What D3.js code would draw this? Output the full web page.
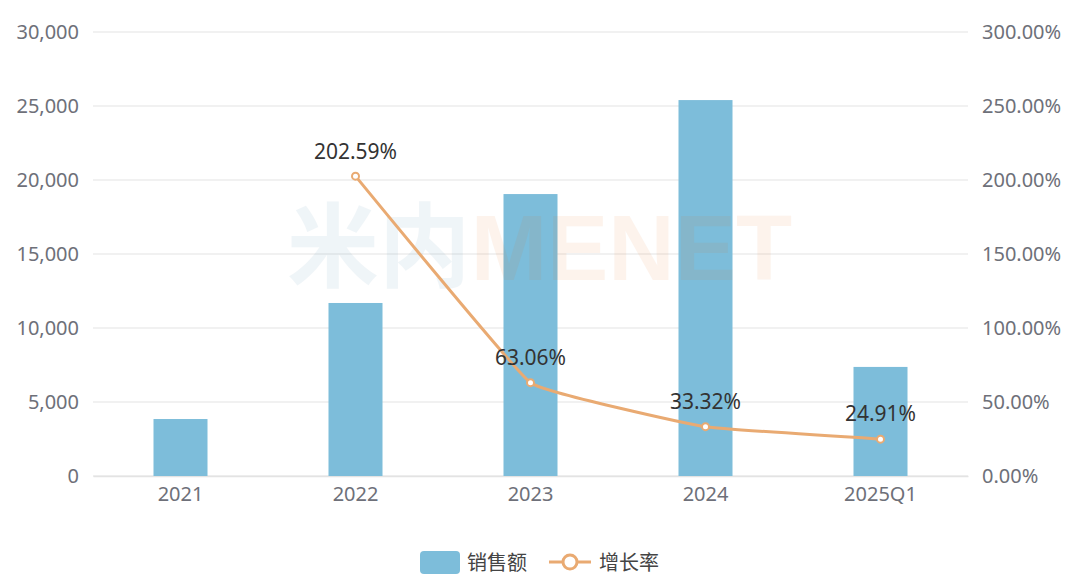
<!DOCTYPE html>
<html><head><meta charset="utf-8">
<script src="https://cdn.jsdelivr.net/npm/d3@7"></script>
<style>body{margin:0;background:#fff}svg{display:block}text{font-family:"Noto Sans","Noto Sans CJK SC",sans-serif}</style>
</head><body>
<svg id="c" width="1080" height="582"></svg>
<script>
const categories = ["2021","2022","2023","2024","2025Q1"];
const sales = [3850, 11690, 19050, 25400, 7370];
const growth = [null, 202.59, 63.06, 33.32, 24.91];
const leftTicks = [0, 5000, 10000, 15000, 20000, 25000, 30000];
const rightTicks = [0, 50, 100, 150, 200, 250, 300];
const legendNames = ["销售额", "增长率"];

const svg = d3.select("#c");
const L = 93, R = 968, T = 32, B = 476;
const barColor = "#7dbdda", lineColor = "#e9aa72", axisText = "#6e7079";
const fs = 20;

const x = d3.scaleBand().domain(categories).range([L, R]);
const yL = d3.scaleLinear().domain([0, 30000]).range([B, T]);
const yR = d3.scaleLinear().domain([0, 300]).range([B, T]);

// grid
svg.append("g").selectAll("line").data(leftTicks).join("line")
  .attr("x1", L).attr("x2", R).attr("y1", d => yL(d)).attr("y2", d => yL(d))
  .attr("stroke", "#ececec").attr("stroke-width", 1.3);

// left axis
const gl = svg.append("g").attr("transform", `translate(${L},0)`)
  .call(d3.axisLeft(yL).tickValues(leftTicks).tickSize(0).tickPadding(14).tickFormat(d3.format(",")));
gl.select(".domain").remove();
gl.selectAll("text").attr("fill", axisText).attr("font-size", fs);

// right axis
const gr = svg.append("g").attr("transform", `translate(${R},0)`)
  .call(d3.axisRight(yR).tickValues(rightTicks).tickSize(0).tickPadding(14).tickFormat(d => d.toFixed(2) + "%"));
gr.select(".domain").remove();
gr.selectAll("text").attr("fill", axisText).attr("font-size", fs);

// x axis
const gx = svg.append("g").attr("transform", `translate(0,${B})`)
  .call(d3.axisBottom(x).tickSize(0).tickPadding(11));
gx.select(".domain").attr("stroke", "#e3e3e3").attr("stroke-width", 1.3);
gx.selectAll("text").attr("fill", axisText).attr("font-size", fs);

// bars
const bw = 54;
svg.append("g").selectAll("rect").data(sales).join("rect")
  .attr("x", (d, i) => x(categories[i]) + x.bandwidth() / 2 - bw / 2)
  .attr("width", bw)
  .attr("y", d => yL(d)).attr("height", d => B - yL(d))
  .attr("fill", barColor);

// watermark overlay (single text with two coloured parts)
const wm = svg.append("text").attr("x", 287).attr("y", 280)
  .attr("font-weight", "bold").attr("font-size", 92).attr("opacity", 0.075)
  .attr("textLength", 505).attr("lengthAdjust", "spacingAndGlyphs");
wm.append("tspan").attr("fill", "#3a7fa8").attr("font-family", "'Noto Sans CJK SC'").text("米内");
wm.append("tspan").attr("fill", "#e66912").attr("font-family", "'Liberation Sans',Arial,sans-serif").text("MENET");

// line
const pts = growth.map((g, i) => ({c: categories[i], g})).filter(d => d.g != null);
const cx = d => x(d.c) + x.bandwidth() / 2;
svg.append("path").datum(pts)
  .attr("d", d3.line().x(cx).y(d => yR(d.g)).curve(d3.curveCardinal.tension(0.75)))
  .attr("fill", "none").attr("stroke", lineColor).attr("stroke-width", 3);
svg.append("g").selectAll("circle").data(pts).join("circle")
  .attr("cx", cx).attr("cy", d => yR(d.g)).attr("r", 3.5)
  .attr("fill", "#fff").attr("stroke", lineColor).attr("stroke-width", 2);
svg.append("g").selectAll("text").data(pts).join("text")
  .attr("x", cx).attr("y", d => yR(d.g) - 25).attr("dy", "0.35em")
  .attr("text-anchor", "middle").attr("font-size", 21).attr("fill", "#333")
  .text(d => d.g.toFixed(2) + "%");

// legend
const lg = svg.append("g");
lg.append("rect").attr("x", 420).attr("y", 551).attr("width", 40).attr("height", 23).attr("rx", 4).attr("fill", barColor);
lg.append("text").attr("x", 467).attr("y", 563).attr("dy", "0.35em").attr("font-size", fs).attr("fill", "#444").text(legendNames[0]);
lg.append("line").attr("x1", 549).attr("x2", 591).attr("y1", 562).attr("y2", 562).attr("stroke", lineColor).attr("stroke-width", 3);
lg.append("circle").attr("cx", 570).attr("cy", 562).attr("r", 7).attr("fill", "#fff").attr("stroke", lineColor).attr("stroke-width", 3);
lg.append("text").attr("x", 599).attr("y", 563).attr("dy", "0.35em").attr("font-size", fs).attr("fill", "#444").text(legendNames[1]);
</script>
</body></html>
